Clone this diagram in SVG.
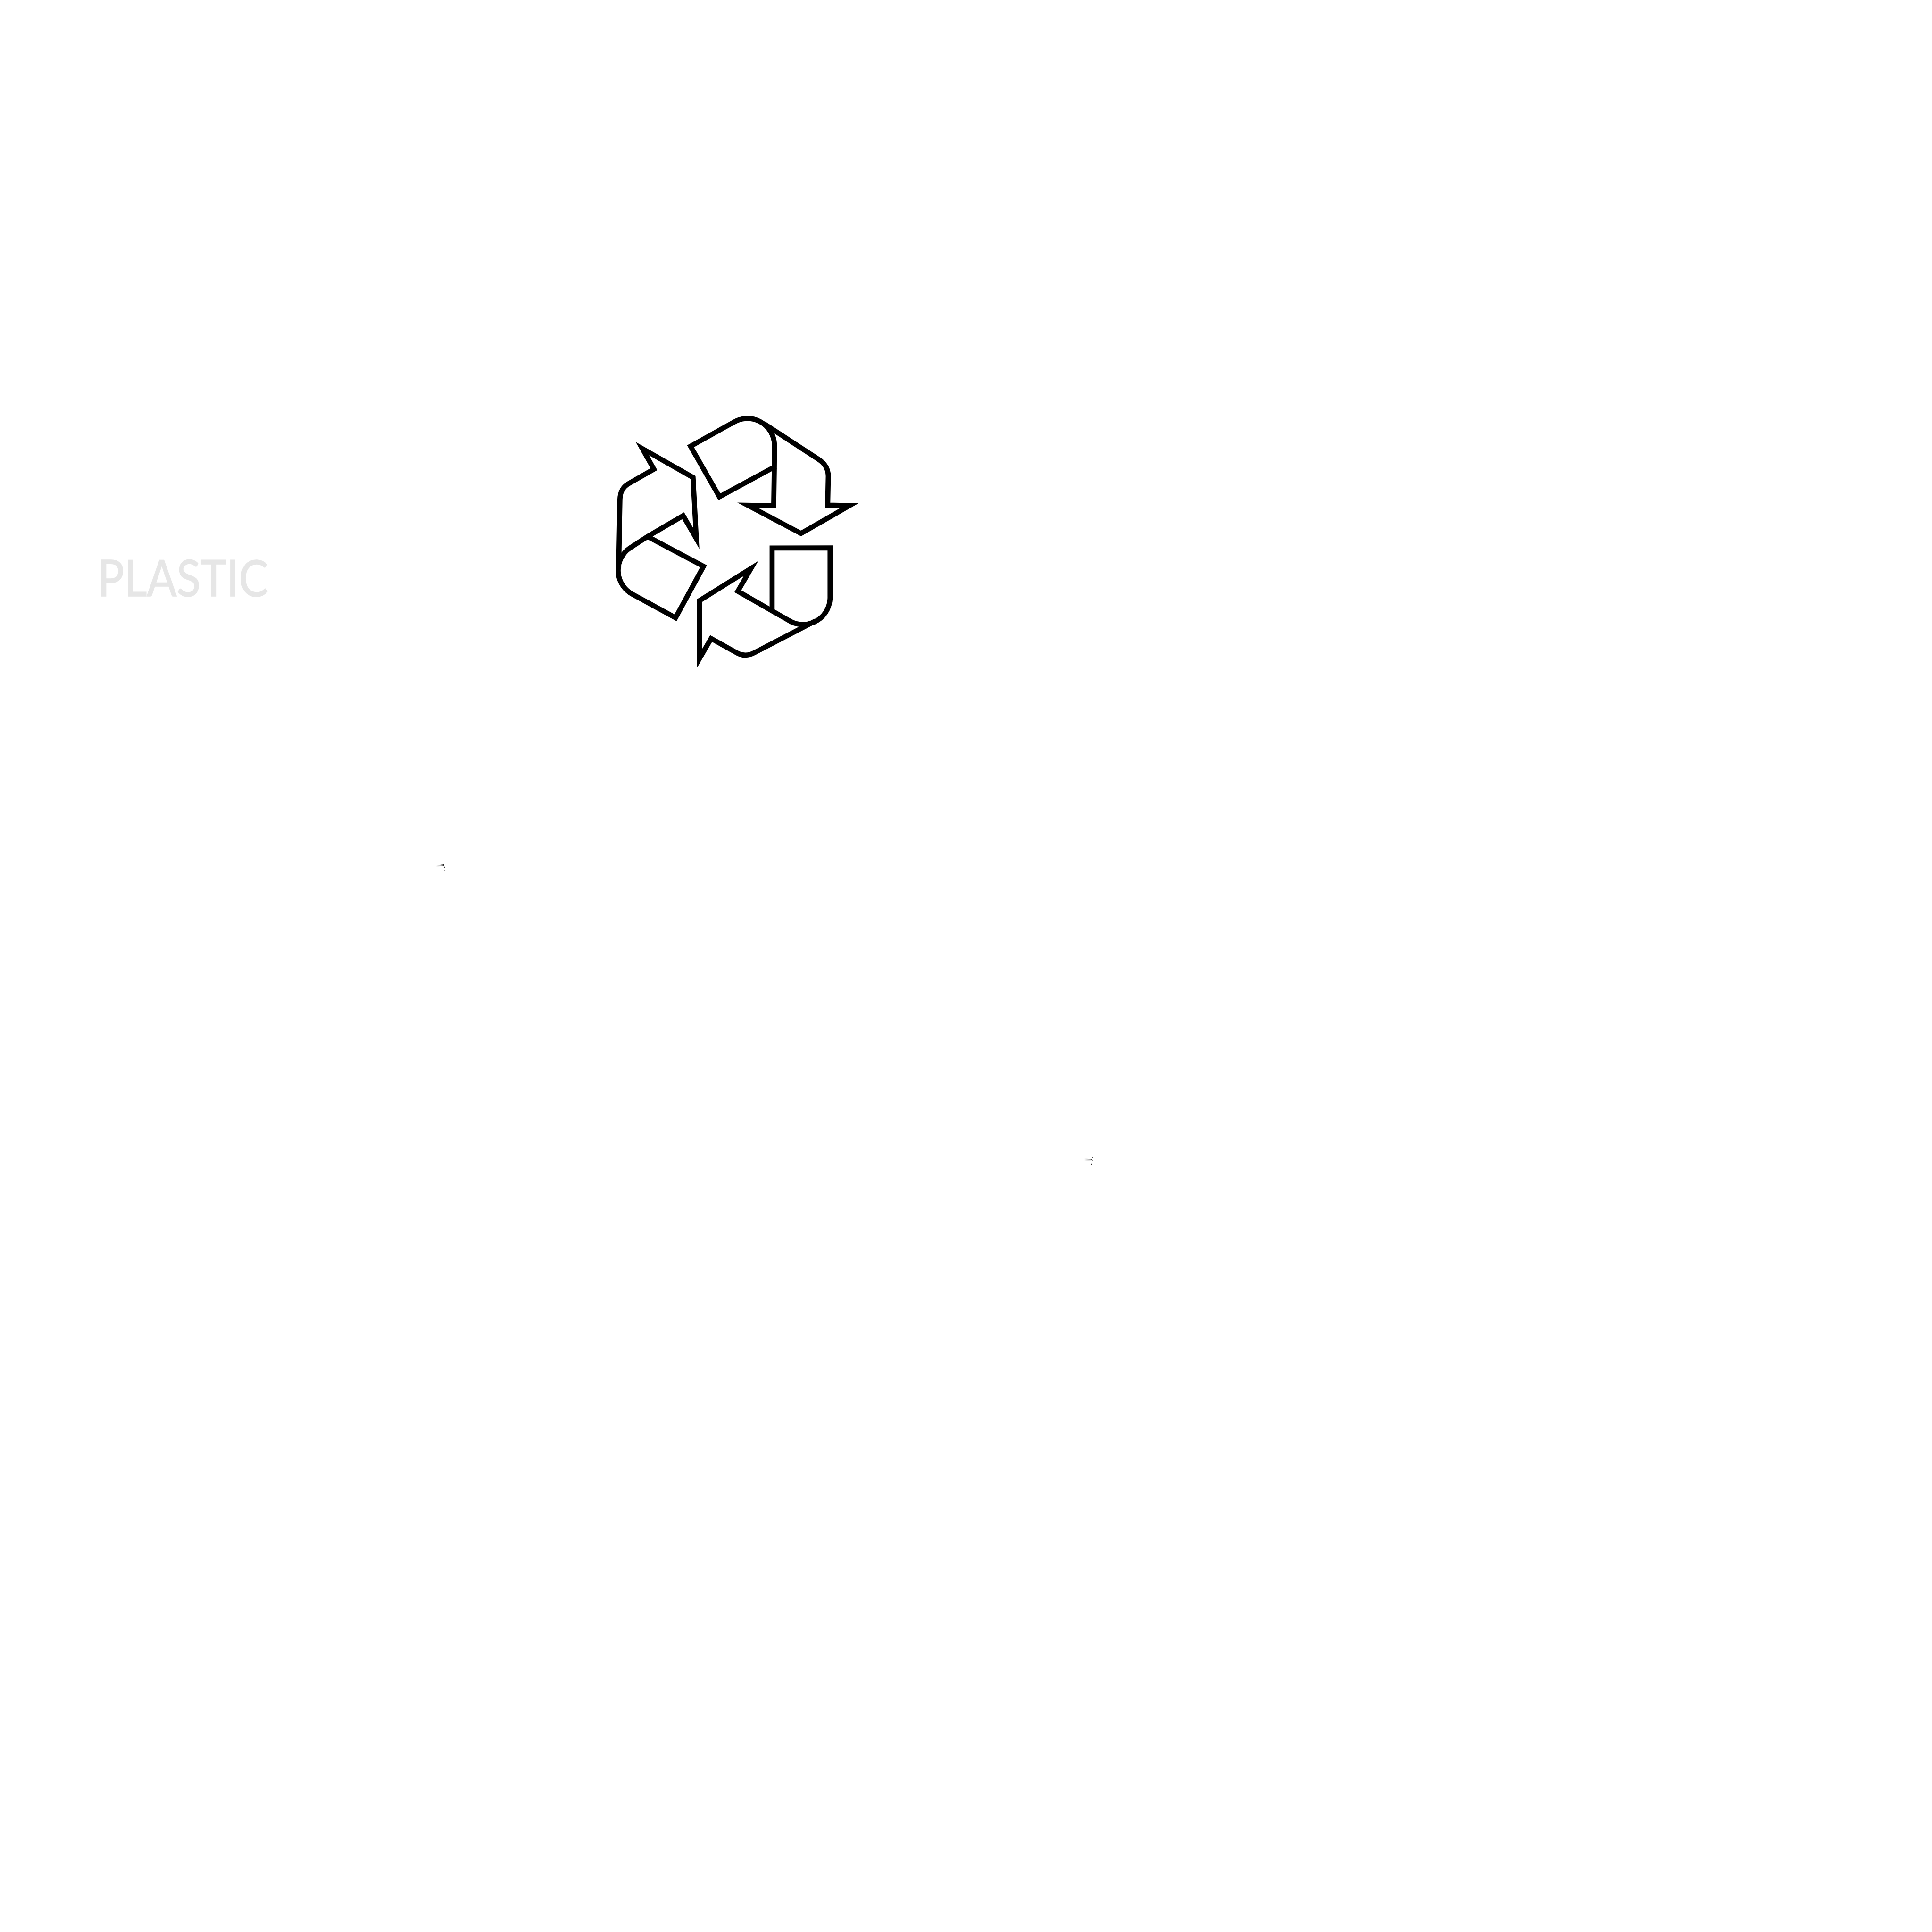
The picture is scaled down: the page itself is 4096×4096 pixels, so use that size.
<svg xmlns="http://www.w3.org/2000/svg" width="4096" height="4096" viewBox="0 0 4096 4096">
<style>
.s{fill:none;stroke:#000;stroke-width:28;stroke-linejoin:miter;stroke-miterlimit:12}
.t{font-family:"Lato","Liberation Sans",sans-serif;font-size:107px;fill:#e6e6e6;stroke:#e6e6e6;stroke-width:1.6}
.d{fill:none;stroke:#111;stroke-width:1.4;stroke-dasharray:2 5}
</style>
<defs><linearGradient id="g"><stop offset="0" stop-color="#aaa" stop-opacity="0"/><stop offset=".8" stop-color="#999"/><stop offset="1" stop-color="#222"/></linearGradient></defs>
<rect width="4096" height="4096" fill="#fff"/>
<text id="label" class="t" x="207" y="1264" textLength="362" lengthAdjust="spacingAndGlyphs">PLASTIC</text>
<g id="recycle" transform="translate(1260 860) scale(.3827)">
<g id="arrow-top">
<path class="s" d="M940,100L1240,296Q1297,332 1296,392L1293,551L1415,553L1145,708L850,552L994,554L997,345"/>
<path class="s" d="M533,225L770,93A150,150 0 0 1 998,215L997,340L693,505Z"/>
</g>
<g id="arrow-left">
<path class="s" d="M135,900L142,520Q143,459 190,432L330,352L266,238L547,398L565,736L492,610L300,722L195,790A150,150 0 0 0 212,1045L450,1175L605,890L300,728"/>
</g>
<g id="arrow-bottom">
<path class="s" d="M985,1137L985,789L1306,788L1306,1060A150,150 0 0 1 1090,1197L985,1137L795,1028L868,902L583,1080L583,1400L647,1290L785,1367Q835,1397 890,1367L1225,1193"/>
</g>
</g>
<g id="marks">
<path d="M924,1835L941,1831L941,1836L924,1838Z" fill="url(#g)"/>
<path class="d" d="M941,1831L944,1850"/>
<path d="M2299,2456L2315,2458L2315,2460L2299,2461Z" fill="url(#g)"/>
<path class="d" d="M2317,2453L2314,2472"/>
</g>
</svg>
